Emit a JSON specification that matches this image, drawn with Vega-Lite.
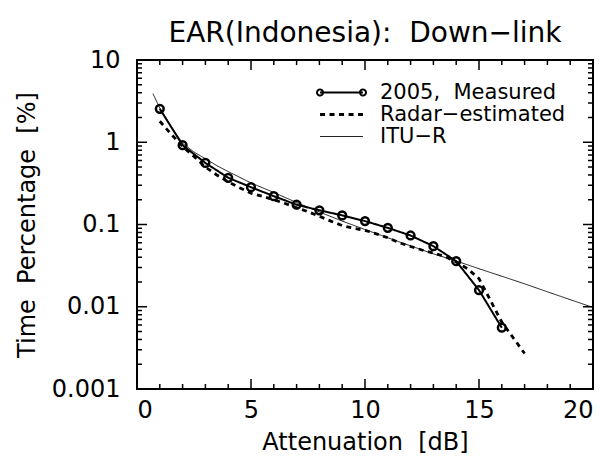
{
  "$schema": "https://vega.github.io/schema/vega-lite/v6.json",
  "width": 456,
  "height": 329,
  "autosize": "none",
  "padding": {"left": 137, "top": 60, "right": 15, "bottom": 72},
  "title": {"text": "EAR(Indonesia):\u00a0 Down\u2212link", "fontSize": 28, "fontWeight": "normal", "font": "DejaVu Sans", "color": "black", "anchor": "middle", "offset": 0},
  "config": {
    "view": {"stroke": "black", "strokeWidth": 2},
    "font": "DejaVu Sans",
    "axis": {"domain": false, "grid": false, "ticks": false, "labelColor": "black", "labelFont": "DejaVu Sans", "labelFontSize": 24, "titleFont": "DejaVu Sans", "titleFontSize": 24, "titleFontWeight": "normal", "titleColor": "black"}
  },
  "data": {
    "values": [
      {"series": "2005,\u00a0 Measured", "x": 1, "y": 2.55},
      {"series": "2005,\u00a0 Measured", "x": 2, "y": 0.92},
      {"series": "2005,\u00a0 Measured", "x": 3, "y": 0.56},
      {"series": "2005,\u00a0 Measured", "x": 4, "y": 0.37},
      {"series": "2005,\u00a0 Measured", "x": 5, "y": 0.284},
      {"series": "2005,\u00a0 Measured", "x": 6, "y": 0.221},
      {"series": "2005,\u00a0 Measured", "x": 7, "y": 0.174},
      {"series": "2005,\u00a0 Measured", "x": 8, "y": 0.149},
      {"series": "2005,\u00a0 Measured", "x": 9, "y": 0.129},
      {"series": "2005,\u00a0 Measured", "x": 10, "y": 0.11},
      {"series": "2005,\u00a0 Measured", "x": 11, "y": 0.091},
      {"series": "2005,\u00a0 Measured", "x": 12, "y": 0.0735},
      {"series": "2005,\u00a0 Measured", "x": 13, "y": 0.0545},
      {"series": "2005,\u00a0 Measured", "x": 14, "y": 0.0358},
      {"series": "2005,\u00a0 Measured", "x": 15, "y": 0.0159},
      {"series": "2005,\u00a0 Measured", "x": 16, "y": 0.00556},
      {"series": "Radar\u2212estimated", "x": 1, "y": 1.8},
      {"series": "Radar\u2212estimated", "x": 1.5, "y": 1.25},
      {"series": "Radar\u2212estimated", "x": 2, "y": 0.89},
      {"series": "Radar\u2212estimated", "x": 2.5, "y": 0.67},
      {"series": "Radar\u2212estimated", "x": 3, "y": 0.5},
      {"series": "Radar\u2212estimated", "x": 3.5, "y": 0.4},
      {"series": "Radar\u2212estimated", "x": 4, "y": 0.33},
      {"series": "Radar\u2212estimated", "x": 4.5, "y": 0.28},
      {"series": "Radar\u2212estimated", "x": 5, "y": 0.24},
      {"series": "Radar\u2212estimated", "x": 5.5, "y": 0.22},
      {"series": "Radar\u2212estimated", "x": 6, "y": 0.2},
      {"series": "Radar\u2212estimated", "x": 6.5, "y": 0.18},
      {"series": "Radar\u2212estimated", "x": 7, "y": 0.16},
      {"series": "Radar\u2212estimated", "x": 7.5, "y": 0.143},
      {"series": "Radar\u2212estimated", "x": 8, "y": 0.126},
      {"series": "Radar\u2212estimated", "x": 8.5, "y": 0.11},
      {"series": "Radar\u2212estimated", "x": 9, "y": 0.097},
      {"series": "Radar\u2212estimated", "x": 9.5, "y": 0.09},
      {"series": "Radar\u2212estimated", "x": 10, "y": 0.085},
      {"series": "Radar\u2212estimated", "x": 10.5, "y": 0.077},
      {"series": "Radar\u2212estimated", "x": 11, "y": 0.069},
      {"series": "Radar\u2212estimated", "x": 11.5, "y": 0.06},
      {"series": "Radar\u2212estimated", "x": 12, "y": 0.054},
      {"series": "Radar\u2212estimated", "x": 12.5, "y": 0.049},
      {"series": "Radar\u2212estimated", "x": 13, "y": 0.045},
      {"series": "Radar\u2212estimated", "x": 13.5, "y": 0.041},
      {"series": "Radar\u2212estimated", "x": 14, "y": 0.035},
      {"series": "Radar\u2212estimated", "x": 14.5, "y": 0.029},
      {"series": "Radar\u2212estimated", "x": 15, "y": 0.022},
      {"series": "Radar\u2212estimated", "x": 15.5, "y": 0.012},
      {"series": "Radar\u2212estimated", "x": 16, "y": 0.0065},
      {"series": "Radar\u2212estimated", "x": 16.5, "y": 0.0042},
      {"series": "Radar\u2212estimated", "x": 17, "y": 0.0027},
      {"series": "ITU\u2212R", "x": 0.7, "y": 3.9},
      {"series": "ITU\u2212R", "x": 1, "y": 2.6},
      {"series": "ITU\u2212R", "x": 1.5, "y": 1.55},
      {"series": "ITU\u2212R", "x": 2, "y": 0.97},
      {"series": "ITU\u2212R", "x": 2.5, "y": 0.76},
      {"series": "ITU\u2212R", "x": 3, "y": 0.63},
      {"series": "ITU\u2212R", "x": 3.5, "y": 0.52},
      {"series": "ITU\u2212R", "x": 4, "y": 0.44},
      {"series": "ITU\u2212R", "x": 5, "y": 0.32},
      {"series": "ITU\u2212R", "x": 6, "y": 0.245},
      {"series": "ITU\u2212R", "x": 7, "y": 0.185},
      {"series": "ITU\u2212R", "x": 8, "y": 0.142},
      {"series": "ITU\u2212R", "x": 9, "y": 0.11},
      {"series": "ITU\u2212R", "x": 10, "y": 0.087},
      {"series": "ITU\u2212R", "x": 11, "y": 0.069},
      {"series": "ITU\u2212R", "x": 12, "y": 0.055},
      {"series": "ITU\u2212R", "x": 13, "y": 0.044},
      {"series": "ITU\u2212R", "x": 14, "y": 0.036},
      {"series": "ITU\u2212R", "x": 15, "y": 0.029},
      {"series": "ITU\u2212R", "x": 16, "y": 0.0235},
      {"series": "ITU\u2212R", "x": 17, "y": 0.019},
      {"series": "ITU\u2212R", "x": 18, "y": 0.0152},
      {"series": "ITU\u2212R", "x": 19, "y": 0.0122},
      {"series": "ITU\u2212R", "x": 20, "y": 0.0098}
    ]
  },
  "layer": [
    {
      "mark": {"type": "line", "color": "black", "clip": true},
      "encoding": {
        "x": {"field": "x", "type": "quantitative", "scale": {"domain": [0, 20], "nice": false, "zero": false},
              "axis": {"orient": "bottom", "values": [0, 5, 10, 15, 20], "labelPadding": 9, "title": "Attenuation\u00a0 [dB]", "titlePadding": 8}},
        "y": {"field": "y", "type": "quantitative", "scale": {"type": "log", "domain": [0.001, 10], "nice": false},
              "axis": {"orient": "left", "values": [0.001, 0.01, 0.1, 1, 10], "format": "~g", "labelPadding": 17, "title": "Time\u00a0 Percentage\u00a0 [%]", "titlePadding": 12}},
        "strokeDash": {"field": "series", "type": "nominal",
                       "scale": {"domain": ["2005,\u00a0 Measured", "Radar\u2212estimated", "ITU\u2212R"], "range": [[1, 0], [5, 4.5], [1, 0]]},
                       "legend": {"title": null, "orient": "none", "legendX": 194, "legendY": 22, "padding": 0, "symbolSize": 121, "labelOffset": 28, "labelLimit": 400, "labelFontSize": 21, "labelFont": "DejaVu Sans", "labelColor": "black", "rowPadding": 0, "symbolStrokeColor": "black",
                                  "encode": {"symbols": {"update": {"shape": {"signal": "datum.index === 0 ? 'M-3.9,0L3.9,0M-4.45,0A0.55,0.55,0,1,0,-3.35,0A0.55,0.55,0,1,0,-4.45,0M3.35,0A0.55,0.55,0,1,0,4.45,0A0.55,0.55,0,1,0,3.35,0' : 'M-3.9,0L3.9,0'"}, "strokeWidth": {"signal": "datum.index === 0 ? 2 : datum.index === 1 ? 2.8 : 0.9"}}}}}},
        "strokeWidth": {"field": "series", "type": "nominal",
                        "scale": {"type": "ordinal", "domain": ["2005,\u00a0 Measured", "Radar\u2212estimated", "ITU\u2212R"], "range": [2, 2.8, 0.9]},
                        "legend": null},
        "order": {"field": "x"}
      }
    },
    {
      "transform": [{"filter": "datum.series === '2005,\u00a0 Measured'"}],
      "mark": {"type": "point", "shape": "circle", "filled": false, "size": 60, "strokeWidth": 2.5, "color": "black", "opacity": 1},
      "encoding": {
        "x": {"field": "x", "type": "quantitative"},
        "y": {"field": "y", "type": "quantitative"}
      }
    },
    {
      "data": {"values": [{"x": 0}, {"x": 5}, {"x": 10}, {"x": 15}, {"x": 20}]},
      "mark": {"type": "rule", "color": "black", "strokeWidth": 1.5},
      "encoding": {"x": {"field": "x", "type": "quantitative"}, "y": {"datum": 0.001, "type": "quantitative"}, "y2": {"datum": 0.00132}}
    },
    {
      "data": {"values": [{"x": 0}, {"x": 5}, {"x": 10}, {"x": 15}, {"x": 20}]},
      "mark": {"type": "rule", "color": "black", "strokeWidth": 1.5},
      "encoding": {"x": {"field": "x", "type": "quantitative"}, "y": {"datum": 10, "type": "quantitative"}, "y2": {"datum": 7.56}}
    },
    {
      "data": {"values": [{"x": 1}, {"x": 2}, {"x": 3}, {"x": 4}, {"x": 6}, {"x": 7}, {"x": 8}, {"x": 9}, {"x": 11}, {"x": 12}, {"x": 13}, {"x": 14}, {"x": 16}, {"x": 17}, {"x": 18}, {"x": 19}]},
      "mark": {"type": "rule", "color": "black", "strokeWidth": 1.5},
      "encoding": {"x": {"field": "x", "type": "quantitative"}, "y": {"datum": 0.001, "type": "quantitative"}, "y2": {"datum": 0.00115}}
    },
    {
      "data": {"values": [{"x": 1}, {"x": 2}, {"x": 3}, {"x": 4}, {"x": 6}, {"x": 7}, {"x": 8}, {"x": 9}, {"x": 11}, {"x": 12}, {"x": 13}, {"x": 14}, {"x": 16}, {"x": 17}, {"x": 18}, {"x": 19}]},
      "mark": {"type": "rule", "color": "black", "strokeWidth": 1.5},
      "encoding": {"x": {"field": "x", "type": "quantitative"}, "y": {"datum": 10, "type": "quantitative"}, "y2": {"datum": 8.69}}
    },
    {
      "data": {"values": [{"y": 0.001}, {"y": 0.01}, {"y": 0.1}, {"y": 1}, {"y": 10}]},
      "mark": {"type": "rule", "color": "black", "strokeWidth": 1.5},
      "encoding": {"y": {"field": "y", "type": "quantitative"}, "x": {"datum": 0, "type": "quantitative"}, "x2": {"datum": 0.44}}
    },
    {
      "data": {"values": [{"y": 0.001}, {"y": 0.01}, {"y": 0.1}, {"y": 1}, {"y": 10}]},
      "mark": {"type": "rule", "color": "black", "strokeWidth": 1.5},
      "encoding": {"y": {"field": "y", "type": "quantitative"}, "x": {"datum": 20, "type": "quantitative"}, "x2": {"datum": 19.56}}
    },
    {
      "data": {"values": [{"y": 0.002}, {"y": 0.003}, {"y": 0.004}, {"y": 0.005}, {"y": 0.006}, {"y": 0.007}, {"y": 0.008}, {"y": 0.009}, {"y": 0.02}, {"y": 0.03}, {"y": 0.04}, {"y": 0.05}, {"y": 0.06}, {"y": 0.07}, {"y": 0.08}, {"y": 0.09}, {"y": 0.2}, {"y": 0.3}, {"y": 0.4}, {"y": 0.5}, {"y": 0.6}, {"y": 0.7}, {"y": 0.8}, {"y": 0.9}, {"y": 2}, {"y": 3}, {"y": 4}, {"y": 5}, {"y": 6}, {"y": 7}, {"y": 8}, {"y": 9}]},
      "mark": {"type": "rule", "color": "black", "strokeWidth": 1.5},
      "encoding": {"y": {"field": "y", "type": "quantitative"}, "x": {"datum": 0, "type": "quantitative"}, "x2": {"datum": 0.22}}
    },
    {
      "data": {"values": [{"y": 0.002}, {"y": 0.003}, {"y": 0.004}, {"y": 0.005}, {"y": 0.006}, {"y": 0.007}, {"y": 0.008}, {"y": 0.009}, {"y": 0.02}, {"y": 0.03}, {"y": 0.04}, {"y": 0.05}, {"y": 0.06}, {"y": 0.07}, {"y": 0.08}, {"y": 0.09}, {"y": 0.2}, {"y": 0.3}, {"y": 0.4}, {"y": 0.5}, {"y": 0.6}, {"y": 0.7}, {"y": 0.8}, {"y": 0.9}, {"y": 2}, {"y": 3}, {"y": 4}, {"y": 5}, {"y": 6}, {"y": 7}, {"y": 8}, {"y": 9}]},
      "mark": {"type": "rule", "color": "black", "strokeWidth": 1.5},
      "encoding": {"y": {"field": "y", "type": "quantitative"}, "x": {"datum": 20, "type": "quantitative"}, "x2": {"datum": 19.78}}
    }
  ]
}
